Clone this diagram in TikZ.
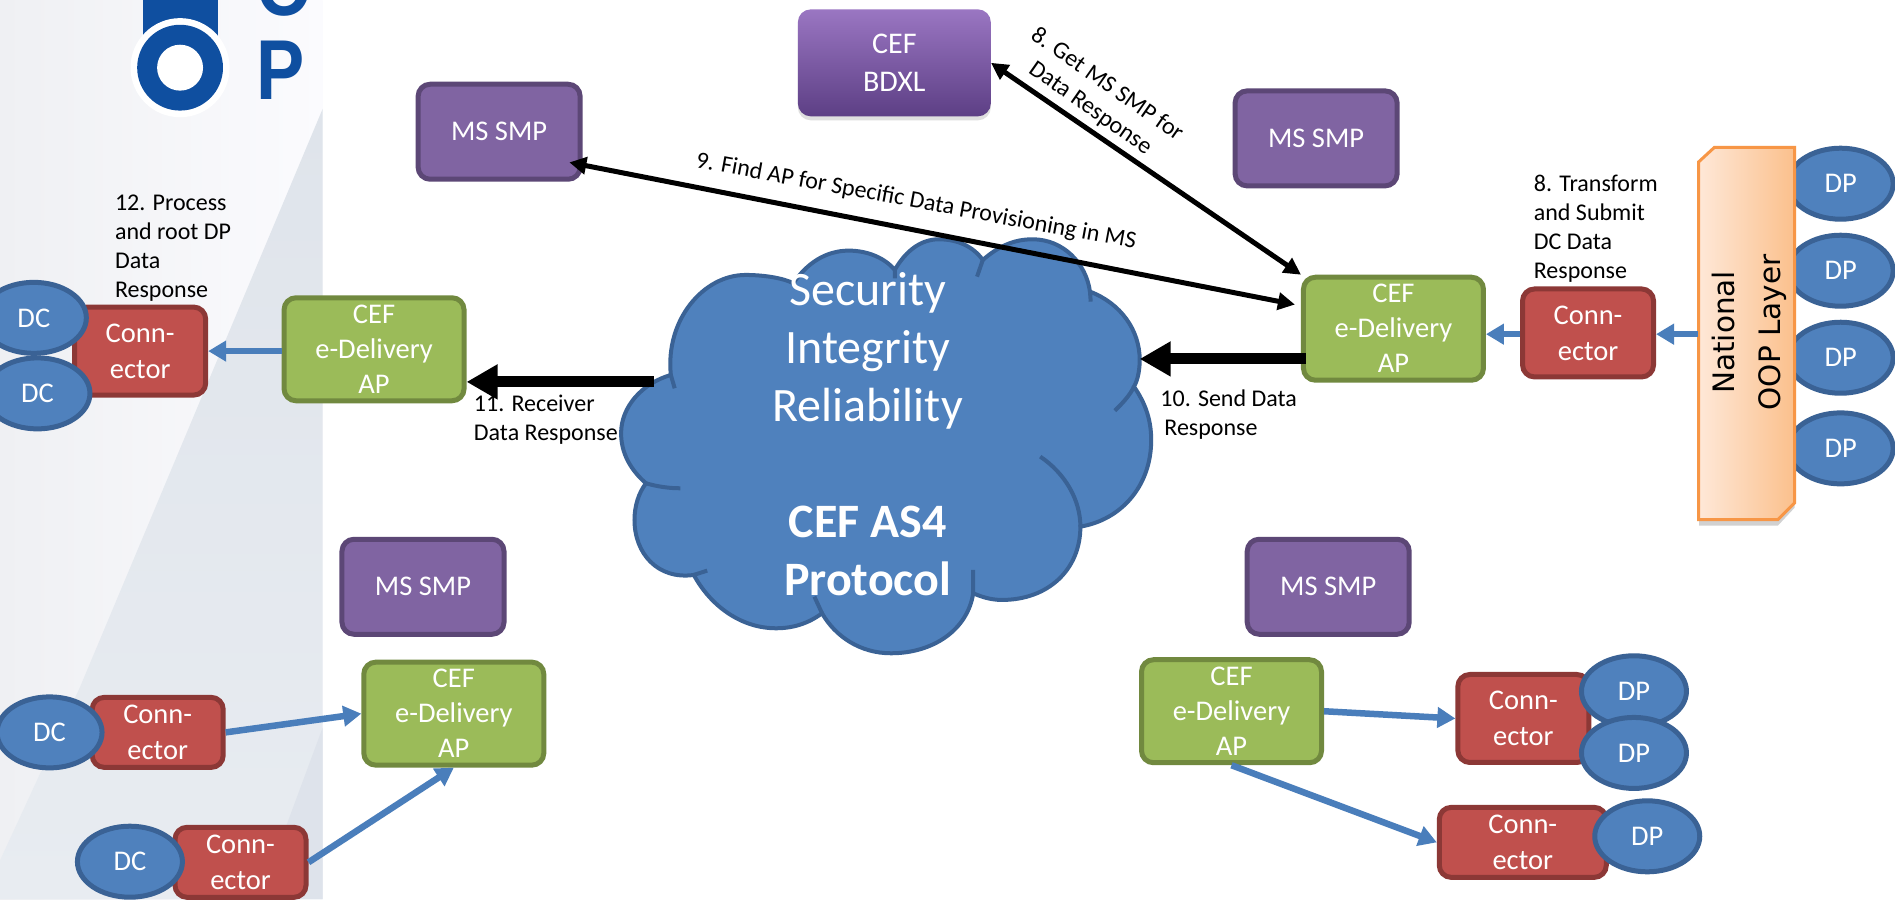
\documentclass[tikz,border=0pt]{standalone}
\usepackage{fontspec}
\setmainfont{Carlito}
\newfontfamily\logofont{Liberation Sans}
\newfontfamily\oopfont{DejaVu Sans}
\usetikzlibrary{arrows.meta,calc,shadows,shapes.geometric}
\definecolor{purplefill}{HTML}{8064A2}
\definecolor{purpleline}{HTML}{5C4776}
\definecolor{greenfill}{HTML}{9BBB59}
\definecolor{greenline}{HTML}{71893F}
\definecolor{redfill}{HTML}{C0504D}
\definecolor{redline}{HTML}{8C3836}
\definecolor{bluefill}{HTML}{4F81BD}
\definecolor{blueline}{HTML}{3A6295}
\definecolor{arrowblue}{HTML}{4A7EBB}
\definecolor{logoblue}{HTML}{0F4FA0}
\definecolor{orangeline}{HTML}{F79646}
\definecolor{panelleft}{HTML}{EFF0F3}
\definecolor{panelright}{HTML}{FBFBFE}
\definecolor{paneldarktop}{HTML}{DFE4EB}
\definecolor{paneldarkbot}{HTML}{E8ECF1}
\definecolor{panelwedge}{HTML}{DEE3EB}
\definecolor{oopleft}{HTML}{FEE8D8}
\definecolor{oopright}{HTML}{FBC08C}
\definecolor{bdxltop}{HTML}{9A76C2}
\definecolor{bdxlmid}{HTML}{7F5AA6}
\definecolor{bdxlbot}{HTML}{5D3F85}
\tikzset{
  x=1.2085pt,y=-1.2085pt,
  boxbase/.style={rectangle,rounded corners=12pt,line width=5pt,align=center,text=white,inner sep=0pt,
    font=\fontsize{28.5}{35}\selectfont},
  smpbox/.style={boxbase,fill=purplefill,draw=purpleline,minimum width=162pt,minimum height=95pt},
  apbox/.style={boxbase,fill=greenfill,draw=greenline,minimum width=180pt,minimum height=103pt},
  connbox/.style={boxbase,fill=redfill,draw=redline,minimum width=131pt,minimum height=88pt,
    font=\fontsize{28.5}{36}\selectfont},
  roundbox/.style={ellipse,fill=bluefill,draw=blueline,line width=5pt,text=white,inner sep=0pt,
    minimum width=105pt,minimum height=71pt,font=\fontsize{28.5}{35}\selectfont},
  note/.style={align=left,inner sep=0pt,text=black,font=\fontsize{24}{29}\selectfont},
  thinlink/.style={line width=5pt,draw=black,{Triangle[length=17pt,width=17pt]}-{Triangle[length=17pt,width=17pt]}},
  thicklink/.style={line width=11pt,draw=black,-{Triangle[length=31pt,width=33pt]}},
  bluelink/.style={line width=6.5pt,draw=arrowblue,-{Triangle[length=18pt,width=20pt]}},
  logotext/.style={anchor=base west,inner sep=0pt,text=logoblue,xscale=.85,font=\logofont\bfseries\fontsize{85}{85}\selectfont},
}
\begin{document}
\begin{tikzpicture}
\useasboundingbox (0,0) rectangle (1568,744);
\clip (0,0) rectangle (1568,744);
% panel
\fill[white] (0,0) rectangle (1568,744);
\shade[left color=panelleft,right color=panelright] (0,0) rectangle (267,744);
\shade[top color=paneldarktop,bottom color=paneldarkbot] (267,90) -- (267,744) -- (0,744) -- (0,712) -- (66,569) -- cycle;
\fill[panelwedge] (267,602) -- (267,744) -- (207,744) -- (237,683) -- cycle;
% logo
\fill[logoblue] (118,0) rectangle (180,30);
\fill[white] (149,56) circle (41);
\fill[logoblue] (149,56) circle (35.5);
\fill[white] (149,56) circle (19);
\node[logotext] (logoO) at (212,13) {O};
\node[logotext] (logoP) at (212,82) {P};
% DP behind the OOP layer
\node[roundbox] (dpA) at (1523,152) {DP};
\node[roundbox] (dpB) at (1523,224) {DP};
\node[roundbox] (dpC) at (1523,296) {DP};
\node[roundbox] (dpD) at (1523,371) {DP};
% OOP layer
\fill[black,opacity=.18] (1406,134) -- (1418,126) -- (1485,126) -- (1485,420) -- (1471,435) -- (1406,435) -- cycle;
\shade[left color=oopleft,right color=oopright,draw=orangeline,line width=3pt]
  (1405.5,134) -- (1418.5,122) -- (1485,122) -- (1485,416) -- (1471,430) -- (1405.5,430) -- cycle;
\node[rectangle,minimum width=96pt,minimum height=373pt,inner sep=0pt] (oop) at (1445,276.5) {};
\node[rotate=90,inner sep=0pt,align=center,font=\oopfont\fontsize{29.5}{46}\selectfont] (ooptext) at (1447.5,275) {National\\OOP Layer};
% cloud
\begin{scope}[shift={(496.5,182)},xscale=0.3167,yscale=0.2758]
\path[fill=bluefill,draw=blueline,line width=4pt]
 (185,465) .. controls (170,300) and (270,165) .. (380,165) .. controls (430,165) and (480,175) .. (505,190)
 .. controls (540,130) and (590,92) .. (650,92) .. controls (700,92) and (745,115) .. (770,150)
 .. controls (800,90) and (840,58) .. (885,58) .. controls (935,58) and (975,80) .. (1000,120)
 .. controls (1040,80) and (1080,58) .. (1130,58) .. controls (1210,58) and (1270,130) .. (1280,215)
 .. controls (1360,250) and (1410,330) .. (1410,420) .. controls (1410,450) and (1405,480) .. (1395,500)
 .. controls (1425,550) and (1440,600) .. (1440,660) .. controls (1440,800) and (1360,900) .. (1255,920)
 .. controls (1255,1050) and (1170,1140) .. (1050,1140) .. controls (1020,1140) and (995,1130) .. (975,1120)
 .. controls (960,1230) and (870,1300) .. (760,1300) .. controls (680,1300) and (615,1250) .. (580,1180)
 .. controls (545,1210) and (505,1225) .. (460,1225) .. controls (370,1225) and (290,1160) .. (245,1065)
 .. controls (150,1080) and (90,1000) .. (90,900) .. controls (90,860) and (100,820) .. (120,790)
 .. controls (80,750) and (55,700) .. (55,640) .. controls (55,560) and (110,490) .. (185,465) -- cycle;
\draw[blueline,line width=4pt]
 (185,465) -- (195,505)
 (770,150) -- (770,175)
 (1000,120) -- (985,170)
 (1280,215) -- (1282,245)
 (1395,500) .. controls (1385,525) and (1365,550) .. (1345,572)
 (1255,920) .. controls (1255,840) and (1215,760) .. (1150,710)
 (975,1120) -- (975,1050)
 (245,1065) -- (280,1052)
 (120,790) .. controls (150,800) and (180,805) .. (210,805)
 (580,1180) -- (560,1130);
\end{scope}
\node[inner sep=0pt,align=center,text=white,font=\fontsize{48}{58}\selectfont] (cloudtext) at (718,290) {Security\\Integrity\\Reliability};
\node[inner sep=0pt,align=center,text=white,font=\bfseries\fontsize{48}{58}\selectfont] (cloudbold) at (718,456) {CEF AS4\\Protocol};
\coordinate (cloudE) at (943,297);
\coordinate (cloudW) at (541,316);
% boxes
\node[smpbox] (smpA) at (413,109) {MS SMP};
\node[smpbox] (smpB) at (1089,114.5) {MS SMP};
\node[smpbox] (smpC) at (350,485.5) {MS SMP};
\node[smpbox] (smpD) at (1099,485.5) {MS SMP};
\node[rectangle,rounded corners=13pt,align=center,text=white,inner sep=0pt,
  minimum width=193pt,minimum height=107pt,
  top color=bdxltop,middle color=bdxlmid,bottom color=bdxlbot,
  font=\fontsize{30}{37.5}\selectfont,
  drop shadow={shadow xshift=0pt,shadow yshift=-4pt,opacity=.25}] (bdxl) at (740,52) {CEF\\BDXL};
\node[apbox] (apR) at (1153,272) {CEF\\e-Delivery\\AP};
\node[apbox] (apL) at (309.5,289) {CEF\\e-Delivery\\AP};
\node[apbox] (apBL) at (375.5,590.5) {CEF\\e-Delivery\\AP};
\node[apbox] (apBR) at (1019,588.5) {CEF\\e-Delivery\\AP};
\node[connbox] (connR) at (1314,275.5) {Conn-\\ector};
\node[connbox] (connL) at (116,290.5) {Conn-\\ector};
\node[connbox,minimum height=70pt] (connBLa) at (130.5,606) {Conn-\\ector};
\node[connbox,minimum height=70pt] (connBLb) at (199,713.5) {Conn-\\ector};
\node[connbox] (connBRa) at (1260.5,594.5) {Conn-\\ector};
\node[connbox,minimum width=167pt,minimum height=70pt] (connBRb) at (1260,697) {Conn-\\ector};
\node[roundbox] (dcA) at (28,263) {DC};
\node[roundbox] (dcB) at (31,325.5) {DC};
\node[roundbox] (dcC) at (41,606) {DC};
\node[roundbox] (dcD) at (107.5,713) {DC};
\node[roundbox] (dpE) at (1352,572) {DP};
\node[roundbox] (dpF) at (1352,623) {DP};
\node[roundbox] (dpG) at (1363,692) {DP};
% connectors
\draw[thinlink] (bdxl.east) -- (apR.north west);
\draw[thinlink] ($(smpA.south east)+(-11,-16)$) -- ($(apR.west)+(-5,-20)$);
\draw[thicklink] (cloudW) -- (apL.east |- cloudW);
\draw[thicklink] (apR.west |- cloudE) ++(4,0) -- (cloudE);
\draw[bluelink] (apL.west |- connL.east) -- (connL.east);
\draw[bluelink] (connR.west |- oop.west) -- (apR.east |- oop.west);
\draw[bluelink] (oop.west) -- (connR.east |- oop.west);
\draw[bluelink] (connBLa.east) -- (apBL.west);
\draw[bluelink] (connBLb.east) -- (apBL.south);
\draw[bluelink] (apBR.east) -- (connBRa.west);
\draw[bluelink] (apBR.south) -- (connBRb.west);
% labels
\node[note,anchor=west] (lab12) at (95,205) {12. Process\\and root DP\\Data\\Response};
\node[note,anchor=west] (lab8b) at (1269,189) {8. Transform\\and Submit\\DC Data\\Response};
\node[note,anchor=west] (lab11) at (392,347) {11. Receiver\\Data Response};
\node[note,anchor=west] (lab10) at (960,343) {10. Send Data\\\hspace*{4pt}Response};
\node[note,align=center,rotate=-35] (lab8a) at (909,80) {8. Get MS SMP for\\Data Response};
\node[note,rotate=-10.5] (lab9) at (758,167) {9. Find AP for Specific Data Provisioning in MS};
\end{tikzpicture}
\end{document}
